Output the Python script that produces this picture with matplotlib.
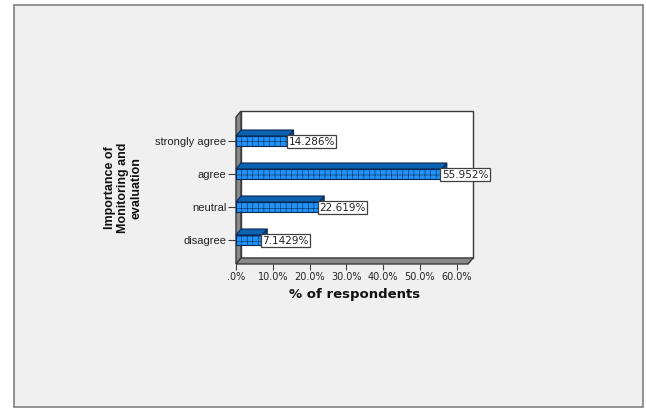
import matplotlib.pyplot as plt
from matplotlib.patches import Polygon, Rectangle
import matplotlib as mpl

# данные графика
categories = ['disagree', 'neutral', 'agree', 'strongly agree']
percents = [7.1429, 22.619, 55.952, 14.286]
value_labels = ['7.1429%', '22.619%', '55.952%', '14.286%']
xticks = [0, 10, 20, 30, 40, 50, 60]
xtick_labels = ['.0%', '10.0%', '20.0%', '30.0%', '40.0%', '50.0%', '60.0%']

mpl.rcParams['hatch.linewidth'] = 0.4
mpl.rcParams['hatch.color'] = '#1060b0'

W, H = 646, 408
fig = plt.figure(figsize=(W / 100, H / 100), dpi=100)
fig.patch.set_facecolor('white')

# серая рамка всей картинки (под осями)
fig.add_artist(Rectangle((14 / W, 1 - 407 / H), (643 - 14) / W, (407 - 5) / H,
                         transform=fig.transFigure, facecolor='#f0f0f0',
                         edgecolor='#808080', lw=1.2, zorder=-10))

# оси: от x=236 до 473 px, от y=111 до 264 px
left, right, top, bottom = 236, 473, 111, 264
ax = fig.add_axes([left / W, 1 - bottom / H, (right - left) / W, (bottom - top) / H])
ax.set_facecolor('none')

px_x = 220.7 / 60          # пикселей на 1%
px_y = 33.0                # пикселей на категорию
xmax = (468 - 236) / px_x
dx, dy = 5 / px_x, 6 / px_y   # глубина "3d"
ybot = -24 / px_y
ytop = ybot + (bottom - top) / px_y
ax.set_xlim(0, xmax + dx)
ax.set_ylim(ybot, ytop)

edge = '#3a3a3a'
# задняя стенка
ax.add_patch(Polygon([(dx, ybot + dy), (xmax + dx, ybot + dy), (xmax + dx, ytop), (dx, ytop)],
                     closed=True, facecolor='white', edgecolor=edge, lw=1, clip_on=False, zorder=1))
# левая стенка
ax.add_patch(Polygon([(0, ybot), (0, ytop - dy), (dx, ytop), (dx, ybot + dy)],
                     closed=True, facecolor='#8a8a8a', edgecolor=edge, lw=1, clip_on=False, zorder=2))
# пол
ax.add_patch(Polygon([(0, ybot), (xmax, ybot), (xmax + dx, ybot + dy), (dx, ybot + dy)],
                     closed=True, facecolor='#8a8a8a', edgecolor=edge, lw=1, clip_on=False, zorder=2))

bh = 10 / px_y  # высота бара
for i, v in enumerate(percents):
    y0, y1 = i - bh / 2, i + bh / 2
    # верх бара
    ax.add_patch(Polygon([(0, y1), (v, y1), (v + dx, y1 + dy), (dx, y1 + dy)], closed=True,
                         facecolor='#0a62b0', edgecolor='#0a2a55', lw=0.8, zorder=3, clip_on=False))
    # правый бок
    ax.add_patch(Polygon([(v, y0), (v, y1), (v + dx, y1 + dy), (v + dx, y0 + dy)], closed=True,
                         facecolor='#084a88', edgecolor='#0a2a55', lw=0.8, zorder=3, clip_on=False))
    # передняя грань
    ax.add_patch(Rectangle((0, y0), v, bh, facecolor='#2092f8', edgecolor='#0a2a55',
                           lw=0.8, hatch='+++', zorder=4, clip_on=False))
    ax.text(v, i - 0.02, value_labels[i], ha='left', va='center', fontsize=7.5,
            family='DejaVu Sans', color='#222222', zorder=6,
            bbox=dict(boxstyle='square,pad=0.15', facecolor='white', edgecolor='#404040', lw=0.9))

for s in ax.spines.values():
    s.set_visible(False)

ax.set_xticks(xticks)
ax.set_xticklabels(xtick_labels, fontsize=7, family='DejaVu Sans', color='#222222')
ax.set_yticks(range(len(categories)))
ax.set_yticklabels(categories, fontsize=8, family='Liberation Sans', color='#222222')
ax.tick_params(axis='x', length=4, width=0.8, color='#404040', pad=2)
ax.tick_params(axis='y', length=6, width=0.8, color='#404040', pad=1)

ax.set_xlabel('% of respondents', fontsize=9.5, fontweight='bold', family='DejaVu Sans',
              labelpad=4, color='#111111')

fig.text(123 / W, 1 - 188 / H, 'Importance of\nMonitoring and\nevaluation', rotation=90,
         ha='center', va='center', multialignment='center', fontsize=9, fontweight='bold',
         family='Liberation Sans', linespacing=1.15, color='#111111')

fig.savefig('out.png', dpi=100, facecolor=fig.get_facecolor())
